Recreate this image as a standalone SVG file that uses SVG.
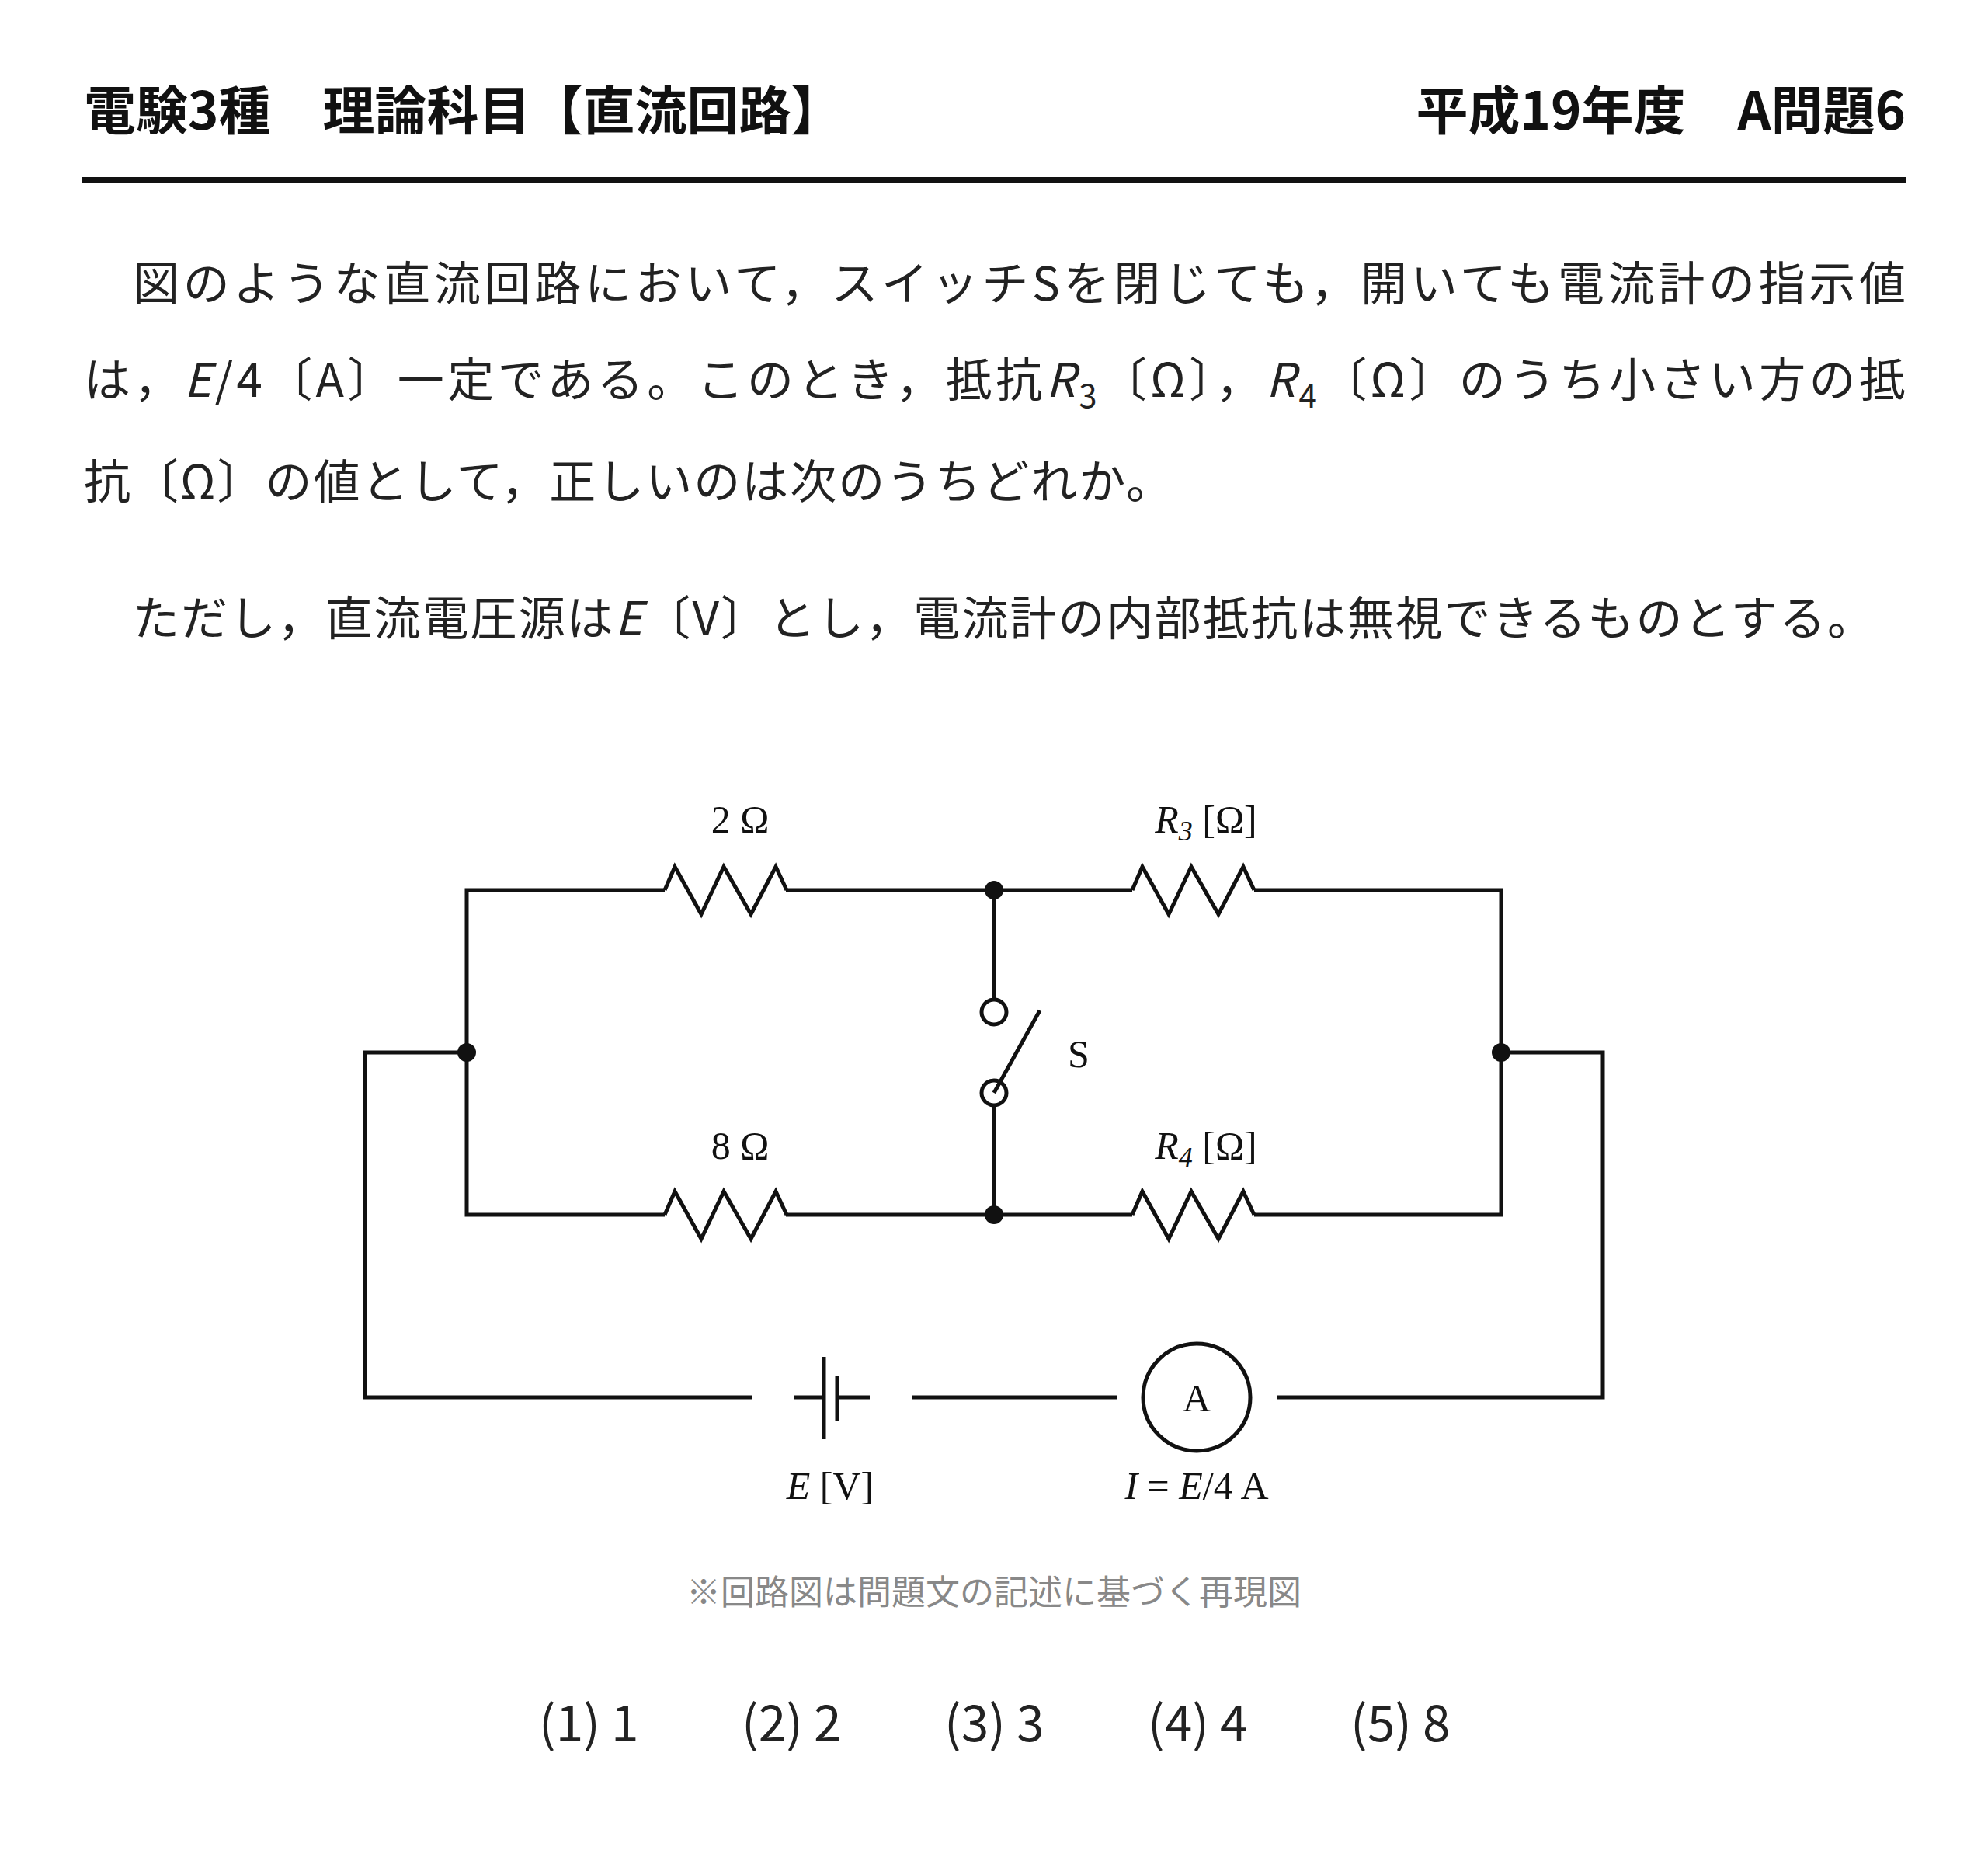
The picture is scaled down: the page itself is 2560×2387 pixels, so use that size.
<svg xmlns="http://www.w3.org/2000/svg" width="2560" height="2387" viewBox="0 0 2560 2387">
<style>
.h{font-family:"Noto Sans CJK JP",sans-serif;font-weight:bold;font-size:67px;fill:#111}
.p{font-family:"Noto Sans CJK JP",sans-serif;font-size:60px;fill:#222}
.i{font-style:italic}
.c{font-family:"Liberation Serif","Noto Sans CJK JP",serif;font-size:50px;fill:#111}
.w{fill:none;stroke:#111;stroke-width:5;stroke-linejoin:miter}
.n{fill:#111}
</style>
<defs>
<path id="res" class="w" d="M0 0 L13 -30 L47 31 L76 -30 L111 31 L143 -30 L157 0"/>
</defs>
<rect width="2560" height="2387" fill="#fff"/>
<g id="header">
<text class="h" x="108" y="167">電験3種　理論科目【直流回路】</text>
<text class="h" x="2454" y="167" text-anchor="end">平成19年度　A問題6</text>
<rect x="105" y="228" width="2350" height="8" fill="#111"/>
</g>
<g id="question">
<text class="p" x="171" y="387" textLength="2283" lengthAdjust="spacing">図のような直流回路において，スイッチSを閉じても，開いても電流計の指示値</text>
<text class="p" x="108" y="511" textLength="2346" lengthAdjust="spacing">は，<tspan class="i">E</tspan>/4〔A〕一定である。このとき，抵抗<tspan class="i">R</tspan><tspan font-size="42" dy="14">3</tspan><tspan dy="-14">〔Ω〕，</tspan><tspan class="i">R</tspan><tspan font-size="42" dy="14">4</tspan><tspan dy="-14">〔Ω〕のうち小さい方の抵</tspan></text>
<text class="p" x="108" y="642" textLength="1402" lengthAdjust="spacing">抗〔Ω〕の値として，正しいのは次のうちどれか。</text>
<text class="p" x="171" y="818" textLength="2242" lengthAdjust="spacing">ただし，直流電圧源は<tspan class="i">E</tspan>〔V〕とし，電流計の内部抵抗は無視できるものとする。</text>
</g>
<g id="connectors">
<path class="w" d="M856 1146 H601 V1564 H856 M1012 1146 H1458 M1615 1146 H1933 V1564 H1615 M1012 1564 H1458"/>
<use href="#res" x="856" y="1146"/>
<use href="#res" x="1458" y="1146"/>
<use href="#res" x="856" y="1564"/>
<use href="#res" x="1458" y="1564"/>
<path class="w" d="M1280 1146 V1287 M1280 1423 V1564 M1280 1407 L1339 1301"/>
<path class="w" d="M601 1355 H470 V1799 H968 M1933 1355 H2064 V1799 H1644 M1174 1799 H1438"/>
<path class="w" d="M1022 1799 H1061 M1078 1799 H1120 M1061 1747 V1853 M1078 1771 V1829"/>
</g>
<g id="nodes">
<circle class="n" cx="1280" cy="1146" r="12"/>
<circle class="n" cx="1280" cy="1564" r="12"/>
<circle class="n" cx="601" cy="1355" r="12"/>
<circle class="n" cx="1933" cy="1355" r="12"/>
<circle cx="1280" cy="1303" r="16" fill="#fff" stroke="#111" stroke-width="5"/>
<circle cx="1280" cy="1407" r="16" fill="none" stroke="#111" stroke-width="5"/>
<circle cx="1541" cy="1799" r="69" fill="#fff" stroke="#111" stroke-width="5"/>
<text class="c" x="1541" y="1817" text-anchor="middle">A</text>
</g>
<g id="labels">
<text class="c" x="953" y="1072" text-anchor="middle">2 Ω</text>
<text class="c" x="1553" y="1072" text-anchor="middle"><tspan class="i">R</tspan><tspan class="i" font-size="36" dy="10">3</tspan><tspan dy="-10"> [Ω]</tspan></text>
<text class="c" x="953" y="1492" text-anchor="middle">8 Ω</text>
<text class="c" x="1553" y="1492" text-anchor="middle"><tspan class="i">R</tspan><tspan class="i" font-size="36" dy="10">4</tspan><tspan dy="-10"> [Ω]</tspan></text>
<text class="c" x="1375" y="1374">S</text>
<text class="c" x="1069" y="1930" text-anchor="middle"><tspan class="i">E</tspan> [V]</text>
<text class="c" x="1541" y="1930" text-anchor="middle"><tspan class="i">I</tspan> = <tspan class="i">E</tspan>/4 A</text>
</g>
<g id="note">
<text x="1280" y="2066" text-anchor="middle" font-family="Noto Sans CJK JP,sans-serif" font-size="44" fill="#888">※回路図は問題文の記述に基づく再現図</text>
</g>
<g id="choices" font-family="Noto Sans CJK JP,sans-serif" font-size="64" fill="#222">
<text x="694" y="2242">(1) 1</text>
<text x="955" y="2242">(2) 2</text>
<text x="1216" y="2242">(3) 3</text>
<text x="1478" y="2242">(4) 4</text>
<text x="1739" y="2242">(5) 8</text>
</g>
</svg>
